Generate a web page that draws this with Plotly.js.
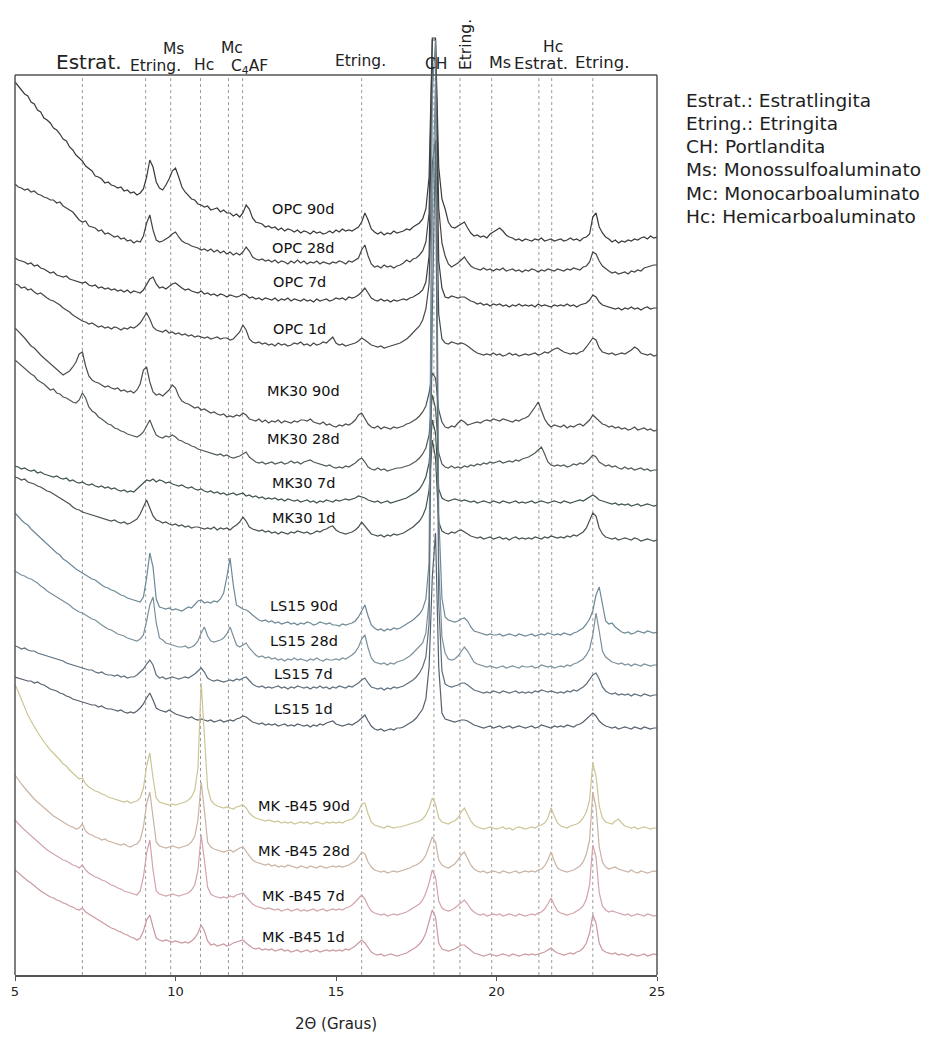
<!DOCTYPE html>
<html><head><meta charset="utf-8">
<script src="https://cdn.plot.ly/plotly-3.0.1.min.js"></script>
<style>html,body{margin:0;padding:0;background:#fff}</style>
</head><body>
<div id="chart" style="width:952px;height:1048px"></div>
<script>
// scan grid: 2θ from 5 to 25 degrees, step 0.1
const scanStart = 5, scanStep = 0.1, scanCount = 201;

const seriesNames = ["OPC 90d","OPC 28d","OPC 7d","OPC 1d","MK30 90d","MK30 28d","MK30 7d","MK30 1d","LS15 90d","LS15 28d","LS15 7d","LS15 1d","MK -B45 90d","MK -B45 28d","MK -B45 7d","MK -B45 1d"];
// vertical stacking offsets (arbitrary intensity units)
const offsets = [763, 732, 694, 646, 572, 532, 497, 462, 367, 335, 307, 273, 172, 128, 85, 45];

// phase reference lines (2θ)
const peakLines = [7.1, 9.07, 9.85, 10.78, 11.65, 12.09, 15.8, 18.05, 18.86, 19.85, 21.32, 21.72, 23.0];
const phaseLabels = ["Estrat.","Etring.","Ms","Hc","Mc","C<sub>4</sub>AF","Etring.","CH","Etring.","Ms","Estrat.","Hc","Etring."];
const legendLines = ["Estrat.: Estratlingita","Etring.: Etringita","CH: Portlandita","Ms: Monossulfoaluminato","Mc: Monocarboaluminato","Hc: Hemicarboaluminato"];
const tickValues = [5, 10, 15, 20, 25];

// intensities (relative to each pattern's offset)
const opc90 = [
155,151,148,143,141,135,133,127,125,119,
117,114,109,107,103,98,96,90,87,82,
79,76,71,68,66,61,60,58,54,55,
52,51,49,50,46,47,44,45,42,44,
48,60,77,70,55,49,47,52,58,66,
69,60,50,45,42,38,37,33,32,30,
31,27,28,29,25,27,24,24,21,23,
20,24,32,28,19,15,14,13,10,11,
9,10,7,9,6,8,7,5,7,4,
6,5,3,6,4,5,3,4,6,4,
7,5,8,6,7,6,8,10,15,24,
17,8,5,3,5,2,4,3,6,4,
5,6,8,7,10,12,14,18,28,60,
199,199,70,38,28,15,10,9,11,13,
15,9,4,1,2,0,1,-1,3,5,
7,9,6,2,0,-1,-3,-2,-4,-2,
-3,-4,-2,-3,-1,-4,-3,-2,-4,-3,
-2,-4,-3,-1,-3,-2,-4,-1,0,3,
20,24,10,4,0,-2,-5,-3,-6,-4,
-5,-3,-4,-2,-3,-1,0,-2,1,-1,
0];
const opc28 = [
84,81,80,78,79,76,77,74,73,71,
70,68,68,65,66,62,60,58,56,52,
48,46,47,42,41,40,37,38,34,35,
33,31,32,29,30,27,28,25,27,26,
32,45,53,38,28,26,27,29,31,34,
36,31,27,25,24,22,21,20,18,19,
17,19,16,18,15,17,14,16,13,15,
13,16,21,17,11,9,8,9,7,8,
6,8,5,7,6,4,7,5,8,5,
7,4,6,5,7,4,6,5,4,6,
5,7,6,4,7,6,8,10,18,23,
12,4,1,2,0,3,1,2,0,2,
3,5,8,6,9,10,13,17,26,55,
228,228,60,25,12,4,1,3,5,8,
11,6,2,0,-1,-2,0,-2,-1,-3,
-1,-2,0,-3,-2,-1,-3,-2,-4,-2,
-3,-1,-2,-4,-2,-3,-1,-2,-3,-1,
-2,-3,-1,-2,0,-1,-2,1,2,6,
16,14,7,2,-1,-3,-5,-4,-6,-5,
-4,-6,-3,-4,-2,-3,0,1,2,3,
3];
const opc7 = [
48,46,45,44,42,43,40,41,38,37,
35,33,34,31,30,29,30,27,26,25,
24,23,24,21,20,21,18,19,17,18,
16,17,15,16,14,16,13,15,14,13,
16,21,27,29,22,18,19,17,20,22,
23,20,18,16,17,15,14,13,15,12,
13,11,12,10,12,11,9,11,10,9,
10,12,11,8,9,7,8,6,8,7,
6,8,5,7,6,8,5,7,6,5,
7,5,6,4,7,5,6,7,5,6,
8,7,8,6,9,8,9,11,14,18,
13,8,6,5,7,5,6,4,6,5,
6,7,6,8,9,11,13,16,24,50,
246,246,45,18,9,8,10,9,8,9,
9,7,5,4,2,3,1,2,0,2,
1,2,0,1,-1,1,0,2,0,1,
0,1,-1,2,0,1,0,-1,1,0,
1,0,2,0,1,-1,1,2,3,6,
11,9,4,1,0,-1,-2,-3,-2,-4,
-2,-3,-1,-3,-2,-4,-2,-1,-3,-2,
-2];
const opc1 = [
70,69,66,67,64,65,62,60,61,58,
56,54,53,51,49,46,44,42,39,37,
35,33,32,30,31,29,27,28,26,27,
25,27,26,24,26,25,27,26,28,31,
36,41,35,27,24,23,22,24,21,22,
20,21,19,20,18,19,17,18,17,16,
17,15,16,17,15,16,16,14,15,18,
22,29,24,15,12,11,12,10,11,9,
10,8,11,9,10,8,9,11,10,12,
9,10,8,11,9,10,12,11,14,17,
11,9,10,8,9,10,11,13,16,14,
11,9,8,7,8,6,7,8,9,10,
11,13,15,18,21,24,28,34,45,70,
190,214,40,15,11,10,12,11,10,11,
10,8,5,3,1,0,-1,0,-1,1,
-1,0,-2,-1,1,-1,0,-2,-1,0,
-1,0,1,-1,0,2,1,3,5,6,
4,2,1,0,1,0,2,3,7,12,
16,14,6,2,1,0,1,-1,0,1,
0,2,4,7,5,1,0,-1,0,-2,
-1];
const mk30_90 = [
100,97,93,90,86,82,80,76,73,70,
67,64,62,58,56,53,55,57,61,66,
74,76,62,52,48,46,45,43,41,42,
40,39,40,37,38,36,37,35,38,44,
58,61,46,36,33,34,32,35,38,43,
40,32,27,25,24,22,20,21,18,19,
17,15,16,14,13,14,11,12,11,13,
12,15,13,9,8,7,9,6,8,5,
7,6,8,5,7,6,5,7,6,8,
8,7,9,6,5,4,6,3,4,2,
1,3,2,4,3,5,8,13,15,9,
4,1,0,2,-1,1,0,-1,1,0,
1,2,4,5,7,9,12,16,22,35,
55,50,18,6,1,0,2,1,5,8,
6,3,4,5,6,5,7,8,7,9,
8,7,9,8,7,6,8,7,9,10,
12,16,21,26,18,9,4,1,3,2,
1,3,0,2,1,3,4,2,5,8,
13,10,6,4,3,1,2,0,1,-1,
0,-2,-1,1,-2,-1,0,-2,-1,-3,
-2];
const mk30_28 = [
108,105,103,99,97,94,92,88,86,84,
81,78,79,75,74,71,70,68,66,65,
68,75,70,61,57,55,51,49,46,44,
43,40,39,37,36,34,33,32,31,33,
36,42,48,40,33,31,30,32,31,33,
31,28,27,25,24,22,21,19,18,17,
16,15,14,13,14,12,13,11,10,11,
12,14,16,11,8,6,5,6,4,5,
6,4,5,6,4,5,7,5,6,4,
6,7,8,6,5,4,3,2,3,1,
0,1,0,2,1,3,5,8,10,6,
1,-1,-2,0,-2,-1,-3,-2,-1,0,
0,1,2,3,5,7,10,14,20,33,
73,60,15,4,1,0,2,0,1,0,
2,1,3,2,4,3,5,4,6,5,
6,7,5,6,7,6,8,7,9,10,
11,13,15,18,21,14,6,3,2,3,
2,3,1,2,4,3,5,4,6,9,
13,11,6,4,2,3,1,2,0,-1,
1,-1,0,-2,-1,0,-2,-1,-3,-2,
-2];
const mk30_7 = [
37,36,34,35,33,32,33,30,31,29,
28,27,26,27,25,24,25,22,23,21,
20,21,19,18,19,17,16,17,15,16,
14,15,13,12,13,11,12,11,14,17,
20,23,22,24,21,23,22,20,21,19,
18,17,18,16,15,16,14,13,14,12,
11,12,10,11,9,10,8,9,10,8,
9,10,7,8,6,7,5,6,4,5,
4,5,3,4,2,4,3,2,3,1,
2,3,1,2,0,2,1,3,2,1,
3,2,3,4,3,4,5,7,6,5,
3,2,1,2,0,1,2,0,1,2,
3,4,5,7,9,11,14,19,26,40,
83,70,14,5,3,2,3,4,3,2,
3,2,1,2,0,1,2,1,0,2,
1,0,2,1,0,1,2,0,1,0,
1,2,0,1,2,1,0,1,2,1,
0,2,1,0,1,2,3,2,4,6,
8,6,3,2,1,0,-1,0,-2,-1,
-2,-1,-3,-2,-1,-3,-2,-1,-2,-3,
-2];
const mk30_1 = [
61,60,58,59,56,55,54,52,51,49,
47,46,44,42,40,38,36,34,31,29,
28,26,25,24,23,22,21,20,19,18,
17,18,16,15,16,14,15,17,19,24,
31,38,30,22,18,17,15,16,14,13,
14,12,13,11,12,10,11,11,10,9,
10,9,11,8,10,9,10,8,11,13,
16,21,17,11,9,8,7,8,6,7,
5,6,4,6,5,4,6,5,7,6,
5,6,4,5,7,6,8,9,11,12,
8,6,5,4,5,6,8,11,16,12,
7,4,3,2,3,1,3,2,4,3,
4,5,7,9,11,14,17,22,30,48,
98,80,16,7,5,4,6,5,7,8,
6,4,2,1,0,1,-1,0,1,-1,
0,1,-1,0,-2,0,1,-1,0,-1,
0,-1,1,0,-1,1,0,2,1,0,
1,0,2,1,3,2,4,6,10,17,
25,22,10,4,1,0,-1,0,-2,-1,
0,-1,-2,0,-1,-3,-2,-1,-2,-3,
-2];
const ls15_90 = [
120,116,113,110,108,104,101,98,95,91,
89,86,83,80,78,74,72,69,66,64,
62,60,58,56,54,53,50,48,46,45,
43,42,40,38,37,35,34,33,32,31,
36,55,80,66,34,26,25,24,25,23,
24,23,22,24,26,25,28,32,33,30,
31,30,32,31,34,40,56,75,48,28,
26,24,23,21,18,15,13,12,13,11,
12,10,11,9,10,11,9,10,8,10,
9,11,10,8,9,11,10,9,10,8,
8,7,9,8,9,10,12,16,22,28,
17,8,5,3,4,2,4,3,5,4,
5,7,9,11,13,16,19,24,34,70,
540,593,120,35,16,13,12,11,12,14,
15,12,6,2,1,0,-1,-2,-1,-2,
-2,-1,-3,-2,-1,-2,-3,-1,-2,-3,
-2,-1,-3,-2,-1,-2,0,-1,-2,-1,
-2,0,-1,-2,0,1,3,5,9,14,
22,38,46,28,12,9,10,6,3,1,
0,1,-1,0,2,1,0,2,1,0,
1];
const ls15_28 = [
94,92,90,89,87,86,84,82,79,77,
74,72,70,68,66,64,62,60,57,55,
53,52,50,48,46,45,42,40,38,36,
35,33,31,30,29,27,26,25,24,26,
30,44,60,68,42,27,25,22,21,20,
19,18,18,19,17,18,20,24,32,38,
29,24,23,24,25,27,31,38,30,20,
18,20,22,17,13,10,8,9,7,8,
6,7,5,6,4,6,5,7,5,6,
5,4,6,5,7,5,4,6,5,5,
6,5,7,6,8,10,13,18,26,30,
17,7,3,2,1,2,0,2,1,3,
4,5,7,9,12,15,18,22,32,65,
450,585,100,28,12,6,5,6,9,13,
18,14,8,3,1,0,-1,-2,-1,-2,
-3,-2,-1,-3,-2,-1,-2,-3,-1,-2,
-2,-1,-3,-2,0,-1,-2,-1,-3,-2,
-1,-2,0,-1,1,2,4,6,10,16,
30,52,34,14,8,5,3,2,1,2,
0,1,-1,1,0,-1,1,0,-1,0,
0];
const ls15_7 = [
47,46,44,45,43,42,42,40,39,38,
37,36,35,34,33,32,30,29,28,27,
26,25,24,23,23,21,20,21,19,18,
18,17,18,16,17,15,16,16,18,21,
24,29,33,28,18,15,16,14,15,16,
15,14,15,16,15,17,19,22,25,21,
15,13,12,13,12,11,12,13,12,14,
13,15,16,12,9,7,6,7,5,6,
5,6,7,5,6,4,6,5,7,6,
5,6,4,6,5,7,5,6,4,6,
5,7,6,5,7,6,8,10,13,15,
10,6,5,4,5,3,5,4,6,5,
6,7,9,11,13,16,20,26,36,70,
380,553,90,22,9,7,6,7,8,10,
10,8,5,3,2,1,0,1,0,2,
1,0,2,1,0,1,2,0,1,0,
1,0,2,1,3,2,1,2,1,0,
1,0,2,1,3,2,4,6,9,14,
18,20,14,6,2,0,-1,0,-2,-1,
-2,-1,-3,-1,-2,-3,-1,-2,-3,-2,
-2];
const ls15_1 = [
50,49,48,47,46,46,44,45,43,42,
40,38,37,36,34,33,31,30,28,27,
26,25,24,23,22,22,20,21,19,18,
18,17,16,17,15,14,15,14,16,19,
23,29,34,27,19,17,16,15,17,15,
13,12,11,10,9,10,8,7,8,7,
6,7,5,6,7,5,6,7,6,8,
9,11,10,7,5,4,3,4,2,3,
2,3,1,2,3,1,2,1,3,2,
1,2,0,2,1,3,2,4,5,6,
3,2,1,2,3,2,4,6,9,12,
6,1,-2,-3,-2,-4,-3,-2,-3,-1,
-1,0,2,4,6,9,13,18,28,60,
150,194,60,14,8,7,6,5,6,7,
7,6,4,2,1,0,-1,0,1,-1,
0,1,-1,0,1,-1,0,1,0,-1,
0,1,-1,0,2,1,0,-1,1,0,
1,0,2,1,0,2,3,5,8,11,
14,11,6,3,1,0,-1,0,-2,-1,
0,-1,-2,0,-1,-2,0,-1,-2,-1,
-1];
const mkb90 = [
144,136,128,121,113,107,101,96,91,86,
82,78,75,71,68,64,62,58,55,52,
49,50,44,41,39,37,36,34,33,31,
30,29,28,27,26,27,25,26,27,30,
40,62,75,50,30,26,25,24,23,24,
23,24,25,26,28,31,38,60,145,90,
40,28,24,22,21,20,21,20,19,21,
22,23,20,15,12,10,9,8,7,8,
7,6,7,5,6,5,6,4,5,6,
5,6,4,5,6,5,4,6,5,6,
5,6,5,7,8,9,12,16,24,25,
14,6,3,2,1,0,2,1,0,1,
1,2,3,4,5,6,7,9,13,20,
30,24,10,6,5,4,6,7,10,16,
20,14,7,3,1,0,-1,0,1,0,
-1,0,1,-1,0,-2,0,1,0,-1,
0,1,0,2,3,5,10,20,12,5,
2,1,0,2,3,4,6,10,16,28,
65,52,22,10,6,5,4,7,9,5,
2,1,0,1,-1,0,1,0,-1,0,
0];
const mkb28 = [
97,92,88,84,80,76,73,70,67,64,
61,58,56,54,52,50,48,46,45,43,
44,48,41,38,37,35,34,32,33,31,
30,29,28,27,28,26,25,27,28,32,
45,68,80,52,30,26,25,24,25,26,
25,24,25,26,27,30,36,52,90,62,
30,25,23,22,21,20,21,22,20,22,
24,25,21,16,12,10,9,8,7,8,
6,7,5,6,5,7,6,5,4,6,
5,4,6,5,4,6,5,4,5,6,
5,6,5,6,7,9,11,15,20,18,
10,5,2,1,0,1,-1,0,1,0,
1,2,3,4,6,7,9,12,17,26,
35,30,12,7,5,4,6,8,12,17,
20,14,7,3,1,0,1,-1,0,1,
0,-1,1,0,-1,0,1,-1,0,1,
0,1,0,2,3,6,12,20,11,4,
2,1,0,1,2,4,6,10,18,32,
80,65,25,10,5,3,4,5,3,2,
1,0,2,0,-1,1,0,-1,0,1,
0];
const mkb7 = [
95,91,88,85,82,79,76,73,70,68,
65,63,61,59,57,55,54,52,50,49,
47,50,45,42,40,38,37,35,34,32,
30,29,27,26,24,23,22,21,20,24,
38,62,75,45,24,21,20,19,20,21,
20,19,20,21,22,25,30,45,80,55,
28,21,19,18,17,18,17,19,18,20,
21,22,18,14,11,9,8,7,6,7,
6,5,6,4,5,6,4,5,6,4,
5,4,5,6,4,5,6,4,5,6,
5,6,5,7,8,10,13,17,20,16,
9,4,2,1,0,1,-1,0,1,0,
1,2,3,5,7,9,11,15,22,32,
45,38,14,7,5,4,5,7,10,13,
15,11,6,3,1,0,1,-1,0,1,
0,1,-1,0,1,0,-1,1,0,-1,
0,1,0,2,3,6,11,17,10,4,
2,1,0,1,2,4,6,9,16,30,
70,58,22,9,5,3,4,3,2,1,
0,1,-1,0,1,0,-1,1,0,-1,
0];
const mkb1 = [
85,82,79,77,74,72,69,67,64,62,
60,58,57,55,54,52,51,49,48,46,
45,47,43,41,39,37,35,33,31,29,
27,26,24,23,21,20,18,17,15,17,
24,35,40,28,17,15,14,15,14,13,
14,13,12,13,12,14,17,22,30,24,
14,10,11,9,10,11,9,10,12,13,
14,15,12,9,7,6,7,5,6,5,
6,4,5,6,4,5,3,4,5,3,
4,5,3,4,5,3,4,5,4,5,
4,5,4,6,5,7,9,12,15,12,
7,3,1,0,1,-1,0,1,0,-1,
0,1,2,4,6,8,11,15,22,33,
45,38,12,6,5,4,5,6,8,10,
10,7,4,2,1,0,-1,0,1,0,
-1,0,1,0,-1,1,0,-1,0,1,
0,1,0,1,2,3,5,7,4,2,
1,0,1,2,1,3,4,7,12,22,
40,32,12,5,3,2,1,2,0,1,
0,-1,1,0,-1,0,1,-1,0,1,
0];

const seriesValues = [opc90, opc28, opc7, opc1, mk30_90, mk30_28, mk30_7, mk30_1, ls15_90, ls15_28, ls15_7, ls15_1, mkb90, mkb28, mkb7, mkb1];

// ---------- styling / layout ----------
const lineColors = ['#3a3a3a','#444444','#3d3d3d','#484848',
                    '#4a504a','#4f5a50','#3e5448','#46524a',
                    '#6d8896','#7b909c','#5d6e7c','#56606c',
                    '#cdc596','#c9b3a3','#d3a3aa','#cc99a0'];
const labelY = [791, 752, 718, 671, 609, 561, 517, 482, 394, 359, 326, 291, 194, 149, 104, 63];
const labelX = [14.0,14.0,13.85,13.85,14.0,14.0,14.0,14.0,14.0,14.0,14.0,14.0,14.0,14.0,14.0,14.0];

const FONT = 'DejaVu Sans, Verdana, sans-serif';
const yBottom = 25, yBoxTop = 925, yTop = 970;
const plotLeft = 15, plotWidth = 642;

const twoTheta = [];
for (let i = 0; i < scanCount; i++) twoTheta.push(+(scanStart + i * scanStep).toFixed(2));

const traces = seriesValues.map((vals, k) => ({
  type: 'scatter', mode: 'lines', name: seriesNames[k],
  x: twoTheta,
  y: vals.map(v => v + offsets[k]),
  line: {color: lineColors[k], width: 1.2},
  hoverinfo: 'skip'
}));

const shapes = [];
peakLines.forEach(p => shapes.push({
  type: 'line', xref: 'x', yref: 'y', x0: p, x1: p, y0: yBottom, y1: yBoxTop,
  line: {color: '#9c9c9c', width: 1, dash: 'dot'}, layer: 'below'
}));
// frame (left, top, right); bottom is the x axis line
shapes.push({type: 'line', xref: 'paper', yref: 'y', x0: 0, x1: 0, y0: yBottom, y1: yBoxTop, line: {color: '#555', width: 1.5}});
shapes.push({type: 'line', xref: 'paper', yref: 'y', x0: 1, x1: 1, y0: yBottom, y1: yBoxTop, line: {color: '#555', width: 1.5}});
shapes.push({type: 'line', xref: 'paper', yref: 'y', x0: 0, x1: 1, y0: yBoxTop, y1: yBoxTop, line: {color: '#555', width: 1.5}});

const annotations = [];
// sample labels
seriesNames.forEach((n, k) => annotations.push({
  xref: 'x', yref: 'y', x: labelX[k], y: labelY[k], text: n, showarrow: false,
  xanchor: 'center', yanchor: 'middle', font: {family: FONT, size: 14.5, color: '#111'}
}));
// phase labels above frame: [x(2θ), y, size, angle]
const phasePos = [
  [7.3, 938, 20, 0], [9.38, 934, 15.5, 0], [9.94, 951, 15.5, 0], [10.88, 935, 15.5, 0],
  [11.75, 952, 15.5, 0], [12.3, 933, 15.5, 0], [15.77, 939, 15.5, 0], [18.1, 936, 15.5, 0],
  [19.05, 955, 15.5, -90], [20.1, 938, 16, 0], [21.4, 937, 16.5, 0], [21.77, 953, 15.5, 0],
  [23.3, 938, 16.5, 0]
];
phaseLabels.forEach((t, k) => annotations.push({
  xref: 'x', yref: 'y', x: phasePos[k][0], y: phasePos[k][1], text: t, showarrow: false,
  textangle: phasePos[k][3], xanchor: 'center', yanchor: 'middle',
  font: {family: FONT, size: phasePos[k][2], color: '#222'}
}));
// key at the right (paper x so it is not hidden outside the 2θ range)
legendLines.forEach((t, k) => annotations.push({
  xref: 'paper', yref: 'y', x: (684 - plotLeft) / plotWidth, y: 900 - k * 23.3, text: t, showarrow: false,
  xanchor: 'left', yanchor: 'middle', font: {family: FONT, size: 18.5, color: '#1e1e1e'}
}));

const layout = {
  width: 952, height: 1048,
  margin: {l: plotLeft, r: 952 - plotLeft - plotWidth, t: 30, b: 73, pad: 0},
  paper_bgcolor: '#fff', plot_bgcolor: '#fff',
  showlegend: false, hovermode: false,
  xaxis: {
    range: [5, 25], tickvals: tickValues, ticktext: tickValues.map(String),
    showgrid: false, zeroline: false, showline: true, linecolor: '#555', linewidth: 1.5,
    ticks: 'outside', ticklen: 4, tickcolor: '#555',
    tickfont: {family: FONT, size: 13, color: '#222'},
    title: {text: '2Θ (Graus)', font: {family: FONT, size: 15, color: '#222'}, standoff: 20},
    automargin: false
  },
  yaxis: {range: [yBottom, yTop], visible: false, showgrid: false, zeroline: false, automargin: false},
  shapes: shapes,
  annotations: annotations
};

Plotly.newPlot('chart', traces, layout, {staticPlot: true, displayModeBar: false});
</script>
</body></html>
